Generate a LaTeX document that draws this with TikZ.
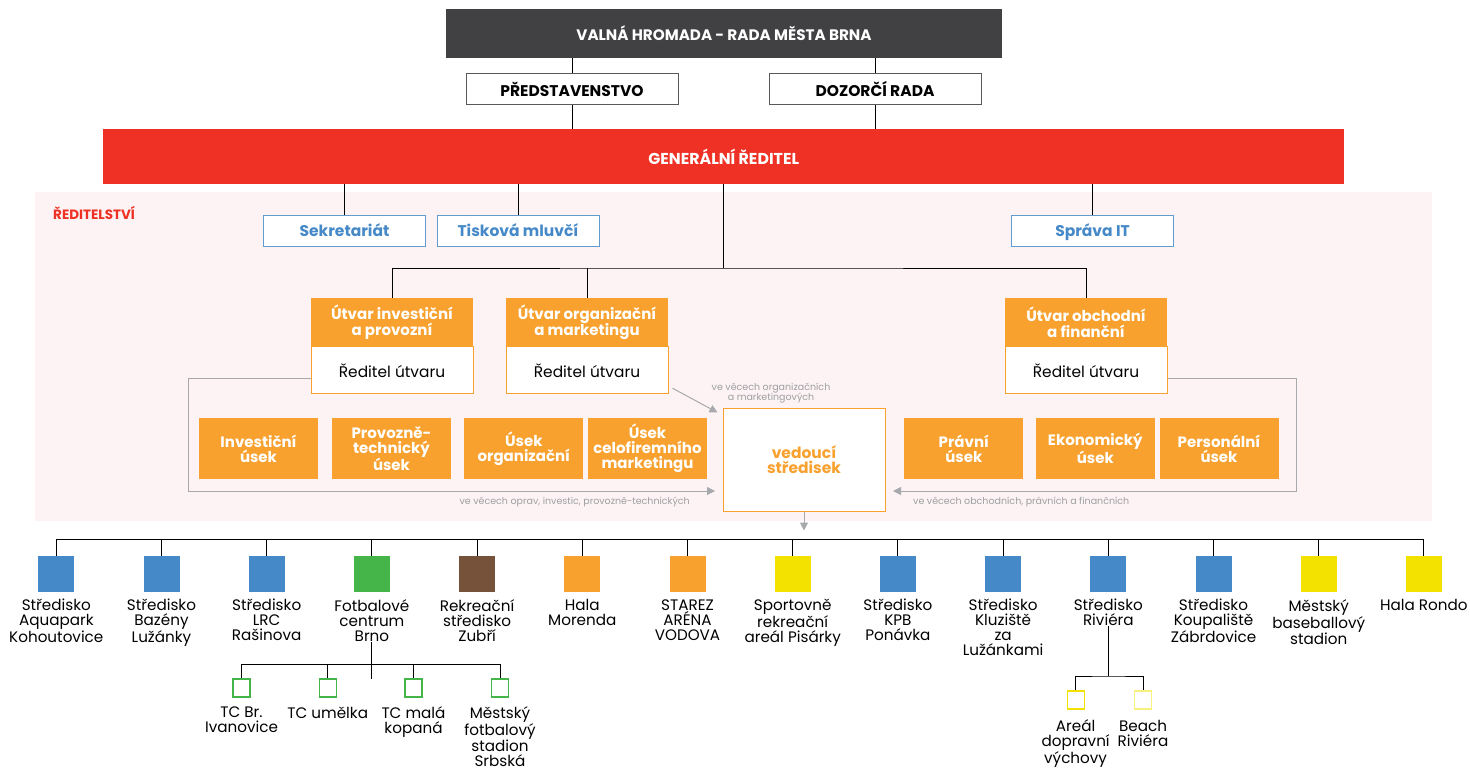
\documentclass[tikz,border=0pt]{standalone}
\usepackage{fontspec}
\setmainfont{Poppins}
\usetikzlibrary{positioning,arrows.meta}

\definecolor{darkhead}{HTML}{414042}
\definecolor{redhead}{HTML}{EE3124}
\definecolor{pinkbg}{HTML}{FDF3F4}
\definecolor{blueit}{HTML}{4589C8}
\definecolor{orangeit}{HTML}{F8A12E}
\definecolor{greenit}{HTML}{46B549}
\definecolor{brownit}{HTML}{77523A}
\definecolor{yellowit}{HTML}{F3E100}
\definecolor{linegray}{HTML}{A7A9AC}
\definecolor{notegray}{HTML}{9D9FA2}

\tikzset{
  headbox/.style={fill=darkhead, text=white, font=\bfseries\fontsize{15.2}{16}\selectfont,
    minimum width=556pt, minimum height=49pt, inner sep=0pt},
  boardbox/.style={draw=black!65, line width=1pt, fill=white, font=\bfseries\fontsize{15.5}{16}\selectfont,
    minimum width=212pt, minimum height=31pt, inner sep=0pt},
  genbox/.style={fill=redhead, text=white, font=\bfseries\fontsize{15.8}{16}\selectfont,
    minimum width=1241pt, minimum height=55pt, inner sep=0pt},
  staffbox/.style={draw=blueit!85, line width=1pt, fill=white, text=blueit, font=\bfseries\fontsize{15.5}{16}\selectfont,
    minimum width=162pt, minimum height=31pt, inner sep=0pt, text height=13pt, text depth=2pt},
  utvhead/.style={fill=orangeit, text=white, font=\bfseries\fontsize{15}{16.5}\selectfont, align=center,
    minimum width=162pt, minimum height=48pt, inner sep=0pt},
  utvdir/.style={fill=white, draw=orangeit, line width=1pt, font=\fontsize{15.4}{16}\selectfont,
    minimum width=162pt, minimum height=47pt, inner sep=0pt},
  usekbox/.style={fill=orangeit, text=white, font=\bfseries\fontsize{15}{15}\selectfont, align=center,
    minimum width=119pt, minimum height=61pt, inner sep=0pt},
  vedbox/.style={fill=white, draw=orangeit, line width=1pt, text=orangeit, font=\bfseries\fontsize{15.5}{15.5}\selectfont,
    align=center, minimum width=162pt, minimum height=103pt, inner sep=0pt},
  note/.style={text=notegray, font=\fontsize{9.5}{10.5}\selectfont, inner sep=0pt},
  grayarrow/.style={draw=linegray, line width=1pt, -{Triangle[length=8pt,width=8pt]}},
  tie/.style={draw=black, line width=0.9pt},
  unitsq/.style={minimum width=36pt, minimum height=36pt, inner sep=0pt},
  unitlbl/.style={font=\fontsize{15.2}{15}\selectfont, align=center, inner sep=0pt},
  subsq/.style={draw=#1, line width=1.2pt, fill=white, minimum width=17pt, minimum height=18pt, inner sep=0pt}
}

\begin{document}
\begin{tikzpicture}[x=1pt,y=-1pt]
  \useasboundingbox (0,0) rectangle (1470,771);
  \fill[white] (0,0) rectangle (1470,771);
  \fill[pinkbg] (35,192) rectangle (1432,521);
  \node[anchor=west, inner sep=0pt, text=redhead, font=\bfseries\fontsize{13.5}{14}\selectfont] (redlbl) at (53,213) {ŘEDITELSTVÍ};

  % top of the company
  \node[headbox] (valna) at (724,33.5) {VALNÁ HROMADA - RADA MĚSTA BRNA};
  \node[boardbox] (pred) at (572,89) {PŘEDSTAVENSTVO};
  \node[boardbox] (dozor) at (875,89) {DOZORČÍ RADA};
  \node[genbox] (gen) at (723.7,156.5) {GENERÁLNÍ ŘEDITEL};
  \draw[tie] (valna.south -| pred.north) -- (pred.north);
  \draw[tie] (valna.south -| dozor.north) -- (dozor.north);
  \draw[tie] (pred.south) -- (pred.south |- gen.north);
  \draw[tie] (dozor.south) -- (dozor.south |- gen.north);

  % staff
  \node[staffbox] (sekr) at (344.5,230.5) {Sekretariát};
  \node[staffbox] (tisk) at (518,230.5) {Tisková mluvčí};
  \node[staffbox] (sprava) at (1092.5,230.5) {Správa IT};
  \foreach \s in {sekr,tisk,sprava} {
    \draw[tie] (gen.south -| \s.north) -- (\s.north);
  }

  % divisions
  \node[utvhead] (invh) at (392,322) {Útvar investiční\\a provozní};
  \node[utvdir, below=0pt of invh] (invd) {Ředitel útvaru};
  \node[utvhead] (orgh) at (587,322) {Útvar organizační\\a marketingu};
  \node[utvdir, below=0pt of orgh] (orgd) {Ředitel útvaru};
  \node[utvhead] (obch) at (1086,322) {Útvar obchodní\\a finanční};
  \node[utvdir, below=0pt of obch] (obcd) {Ředitel útvaru};
  \coordinate (hub) at (723.7,268);
  \draw[tie] (gen.south) -- (hub);
  \draw[tie] (invh.north) |- (hub) -| (obch.north);
  \draw[tie] (orgh.north) -- (orgh.north |- hub);

  % departments
  \node[usekbox] (inv) at (258.5,448.5) {Investiční\\úsek};
  \node[usekbox] (prov) at (391.5,448.5) {Provozně-\\technický\\úsek};
  \node[usekbox] (uorg) at (523.8,448.5) {Úsek\\organizační};
  \node[usekbox] (umkt) at (647.5,448.5) {Úsek\\celofiremního\\marketingu};
  \node[usekbox] (prav) at (963.8,448.5) {Právní\\úsek};
  \node[usekbox] (ekon) at (1095.3,448.5) {Ekonomický\\úsek};
  \node[usekbox] (pers) at (1219,448.5) {Personální\\úsek};

  \node[vedbox] (ved) at (804,459.5) {vedoucí\\středisek};

  % grey lines of competence
  \coordinate (lbend) at (188,491);
  \coordinate (rbend) at (1296,491);
  \draw[grayarrow] (invd.west |- 0,378) -| (lbend) -- (lbend -| 715,0);
  \draw[grayarrow] (obcd.east |- 0,378) -| (rbend) -- (rbend -| 893,0);
  \draw[grayarrow] ([xshift=4pt,yshift=6pt]orgd.south east) -- ([xshift=-5pt,yshift=-5pt]ved.north west);
  \node[note, anchor=east] (nleft) at (690,502) {ve věcech oprav, investic, provozně-technických};
  \node[note, anchor=west] (nright) at (913,502) {ve věcech obchodních, právních a finančních};
  \node[note, align=center] (nmid) at (771,393) {ve věcech organizačních\\a marketingových};
  \draw[grayarrow] (ved.south) -- ++(0,19);

  % centres
  \coordinate (bus) at (0,539);
  \foreach \col/\txt [count=\i] in {
      blueit/{Středisko\\Aquapark\\Kohoutovice},
      blueit/{Středisko\\Bazény\\Lužánky},
      blueit/{Středisko\\LRC\\Rašinova},
      greenit/{Fotbalové\\centrum\\Brno},
      brownit/{Rekreační\\středisko\\Zubří},
      orangeit/{Hala\\Morenda},
      orangeit/{STAREZ\\ARÉNA\\VODOVA},
      yellowit/{Sportovně\\rekreační\\areál Pisárky},
      blueit/{Středisko\\KPB\\Ponávka},
      blueit/{Středisko\\Kluziště\\za\\Lužánkami},
      blueit/{Středisko\\Riviéra},
      blueit/{Středisko\\Koupaliště\\Zábrdovice},
      yellowit/{Městský\\baseballový\\stadion},
      yellowit/{Hala Rondo}} {
    \node[unitsq, fill=\col] (sq\i) at ({56.3+(\i-1)*105.2},574) {};
    \node[unitlbl, below=7pt of sq\i] (lbl\i) {\txt};
    \draw[tie] (sq\i.north) -- (sq\i.north |- bus);
  }
  \draw[tie] (sq1.north |- bus) -- (sq14.north |- bus);

  % football centre
  \coordinate (fbar) at (0,664);
  \coordinate (fend) at (0,679);
  \draw[tie] (lbl4.south) -- (lbl4.south |- fend);
  \foreach \sx/\stxt [count=\j] in {241.5/{TC Br.\\Ivanovice}, 327.7/{TC umělka}, 413.5/{TC malá\\kopaná}, 500/{Městský\\fotbalový\\stadion\\Srbská}} {
    \node[subsq=greenit] (fc\j) at (\sx,688) {};
    \node[unitlbl, below=9pt of fc\j] (fcl\j) {\stxt};
    \draw[tie] (fc\j.north) -- (fc\j.north |- fbar);
  }
  \draw[tie] (fc1.north |- fbar) -- (fc4.north |- fbar);

  % Riviera
  \coordinate (rbar) at (0,676);
  \draw[tie] (lbl11.south) -- (lbl11.south |- rbar);
  \node[subsq=yellowit] (rv1) at (1075.6,700) {};
  \node[subsq=yellowit!50] (rv2) at (1143,700) {};
  \node[unitlbl, below=10pt of rv1] (rvl1) {Areál\\dopravní\\výchovy};
  \node[unitlbl, below=10pt of rv2] (rvl2) {Beach\\Riviéra};
  \draw[tie] (rv1.north) |- (rbar -| lbl11.south) -| (rv2.north);
\end{tikzpicture}
\end{document}
